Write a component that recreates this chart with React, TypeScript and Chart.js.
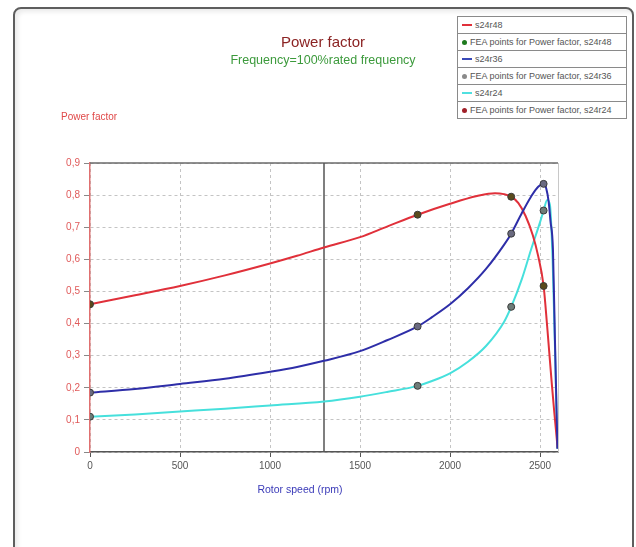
import React, { useEffect, useRef } from "react";
import { Chart, registerables } from "chart.js";

Chart.register(...registerables);

// Curves (Rotor speed in rpm, power factor)
const speedR48 = [0, 250, 500, 750, 1000, 1150, 1300, 1500, 1650, 1820, 2000, 2150, 2250, 2300, 2340, 2380, 2420, 2460, 2490, 2520, 2540, 2565, 2580, 2598];
const pfR48 = [0.46, 0.488, 0.517, 0.55, 0.587, 0.611, 0.637, 0.669, 0.702, 0.739, 0.773, 0.797, 0.806, 0.803, 0.795, 0.775, 0.735, 0.675, 0.61, 0.517, 0.39, 0.216, 0.12, 0.012];

const speedR36 = [0, 250, 500, 750, 1000, 1150, 1300, 1500, 1650, 1820, 1900, 2000, 2100, 2200, 2300, 2340, 2400, 2450, 2490, 2520, 2535, 2548, 2558, 2572, 2583, 2597];
const pfR36 = [0.185, 0.196, 0.212, 0.228, 0.25, 0.265, 0.284, 0.314, 0.348, 0.391, 0.42, 0.46, 0.51, 0.57, 0.645, 0.68, 0.745, 0.795, 0.826, 0.835, 0.82, 0.78, 0.72, 0.63, 0.35, 0.01];

const speedR24 = [0, 250, 500, 750, 1000, 1300, 1500, 1650, 1820, 1900, 2000, 2100, 2200, 2300, 2340, 2400, 2450, 2500, 2520, 2540, 2555, 2570, 2583, 2596];
const pfR24 = [0.11, 0.117, 0.126, 0.135, 0.145, 0.157, 0.172, 0.187, 0.206, 0.221, 0.245, 0.281, 0.33, 0.405, 0.452, 0.54, 0.63, 0.715, 0.752, 0.785, 0.77, 0.6, 0.33, 0.01];

// FEA points
const feaSpeed = [0, 1820, 2340, 2520];
const feaR48 = [0.46, 0.739, 0.795, 0.517];
const feaR36 = [0.185, 0.391, 0.68, 0.835];
const feaR24 = [0.11, 0.206, 0.452, 0.752];

// Rated speed marker
const markerSpeed = 1300;

const xTicks = [0, 500, 1000, 1500, 2000, 2500];
const yTicks = [0, 0.1, 0.2, 0.3, 0.4, 0.5, 0.6, 0.7, 0.8, 0.9];

const legendItems = [
  { label: "s24r48", kind: "line", color: "#e0303a" },
  { label: "FEA points for Power factor, s24r48", kind: "dot", color: "#1e7a1e" },
  { label: "s24r36", kind: "line", color: "#3a4ab8" },
  { label: "FEA points for Power factor, s24r36", kind: "dot", color: "#8a8a8a" },
  { label: "s24r24", kind: "line", color: "#50e0e0" },
  { label: "FEA points for Power factor, s24r24", kind: "dot", color: "#a02028" },
];

const pts = (xs: number[], ys: number[]) => xs.map((x, i) => ({ x, y: ys[i] }));

const FONT = "'Liberation Sans', Arial, sans-serif";

const framePlugin = {
  id: "frame",
  beforeDatasetsDraw(chart: any) {
    const { ctx, chartArea } = chart;
    ctx.save();
    ctx.strokeStyle = "#c8c8c8";
    ctx.lineWidth = 1;
    ctx.beginPath();
    ctx.moveTo(chartArea.right + 0.5, chartArea.top);
    ctx.lineTo(chartArea.right + 0.5, chartArea.bottom);
    ctx.stroke();
    ctx.strokeStyle = "#6a6a6a";
    ctx.lineWidth = 1.5;
    ctx.beginPath();
    ctx.moveTo(chartArea.left, chartArea.top);
    ctx.lineTo(chartArea.right, chartArea.top);
    ctx.stroke();
    ctx.restore();
  },
};

export default function App() {
  const ref = useRef<HTMLCanvasElement>(null);

  useEffect(() => {
    if (!ref.current) return;
    const lineDs = (label: string, data: any, color: string, order: number) => ({
      label,
      data,
      showLine: true,
      borderColor: color,
      backgroundColor: color,
      borderWidth: 2,
      pointRadius: 0,
      cubicInterpolationMode: "monotone",
      order,
    });
    const pointDs = (label: string, data: any, fill: string, order: number) => ({
      label,
      data,
      showLine: false,
      pointRadius: 3.5,
      pointBackgroundColor: fill,
      pointBorderColor: "#3a3a3a",
      pointBorderWidth: 1,
      order,
    });
    const chart = new Chart(ref.current, {
      type: "scatter",
      data: {
        datasets: [
          {
            label: "marker",
            data: [
              { x: markerSpeed, y: 0 },
              { x: markerSpeed, y: 0.9 },
            ],
            showLine: true,
            borderColor: "#555555",
            borderWidth: 1.5,
            pointRadius: 0,
            order: 5,
          } as any,
          lineDs("s24r24", pts(speedR24, pfR24), "#46e0dc", 4),
          lineDs("s24r48", pts(speedR48, pfR48), "#e0303a", 3),
          lineDs("s24r36", pts(speedR36, pfR36), "#2e2ea8", 2),
          pointDs("FEA points for Power factor, s24r48", pts(feaSpeed, feaR48), "#5a4a1c", 1),
          pointDs("FEA points for Power factor, s24r36", pts(feaSpeed, feaR36), "#6a6a80", 1),
          pointDs("FEA points for Power factor, s24r24", pts(feaSpeed, feaR24), "#6e7c78", 1),
        ] as any,
      },
      options: {
        animation: false,
        responsive: false,
        events: [],
        layout: { padding: { left: 0, right: 78, top: 163, bottom: 55 } },
        plugins: { legend: { display: false }, tooltip: { enabled: false }, title: { display: false } },
        scales: {
          x: {
            type: "linear",
            min: 0,
            max: 2600,
            afterBuildTicks: (scale: any) => {
              scale.ticks = xTicks.map((v) => ({ value: v }));
            },
            afterFit: (scale: any) => {
              scale.height = 40;
            },
            ticks: {
              color: "#555555",
              font: { family: FONT, size: 10 },
              padding: 3,
              maxRotation: 0,
              callback: (v: any) => String(v),
            },
            grid: {
              color: "#c4c4c4",
              tickColor: "#555555",
              tickLength: 5,
              lineWidth: 1,
            },
            border: { color: "#555555", width: 1.5, dash: [3, 3] },
          },
          y: {
            type: "linear",
            min: 0,
            max: 0.9,
            afterBuildTicks: (scale: any) => {
              scale.ticks = yTicks.map((v) => ({ value: v }));
            },
            afterFit: (scale: any) => {
              scale.width = 90;
            },
            ticks: {
              color: "#e05a5a",
              font: { family: FONT, size: 10 },
              padding: 4,
              callback: (v: any) => (v === 0 ? "0" : Number(v).toFixed(1).replace(".", ",")),
            },
            grid: {
              color: "#c4c4c4",
              tickColor: "#888888",
              tickLength: 6,
              lineWidth: 1,
            },
            border: { color: "#e07070", width: 1.5, dash: [3, 3] },
          },
        },
      } as any,
      plugins: [framePlugin],
    });
    return () => chart.destroy();
  }, []);

  return (
    <div
      style={{
        position: "absolute",
        left: 0,
        top: 0,
        width: 636,
        height: 547,
        overflow: "hidden",
        background: "#ffffff",
        fontFamily: FONT,
      }}
    >
      <div
        style={{
          position: "absolute",
          left: 13,
          top: 7,
          width: 617,
          height: 600,
          border: "2px solid #5e5e5e",
          borderRadius: 8,
          boxShadow: "inset 3px 3px 4px rgba(0,0,0,0.08)",
        }}
      />
      <canvas ref={ref} width={636} height={547} style={{ position: "absolute", left: 0, top: 0 }} />
      <div
        style={{
          position: "absolute",
          left: 0,
          width: 646,
          top: 33,
          textAlign: "center",
          color: "#8b2323",
          fontSize: 15,
          lineHeight: "18px",
        }}
      >
        Power factor
      </div>
      <div
        style={{
          position: "absolute",
          left: 0,
          width: 646,
          top: 52,
          textAlign: "center",
          color: "#3c9a3c",
          fontSize: 12.5,
          lineHeight: "16px",
        }}
      >
        Frequency=100%rated frequency
      </div>
      <div
        style={{
          position: "absolute",
          left: 61,
          top: 110,
          color: "#e04848",
          fontSize: 10,
          lineHeight: "13px",
        }}
      >
        Power factor
      </div>
      <div
        style={{
          position: "absolute",
          left: 200,
          width: 200,
          top: 483,
          textAlign: "center",
          color: "#3a3ab8",
          fontSize: 10.5,
          lineHeight: "13px",
        }}
      >
        Rotor speed (rpm)
      </div>
      <div
        style={{
          position: "absolute",
          left: 457,
          top: 16,
          width: 168,
          border: "1px solid #8a8a8a",
          background: "#ffffff",
        }}
      >
        {legendItems.map((it, i) => (
          <div
            key={i}
            style={{
              height: 16,
              borderTop: i === 0 ? "none" : "1px solid #8a8a8a",
              display: "flex",
              alignItems: "center",
              paddingLeft: 4,
              fontSize: 9,
              color: "#555555",
              whiteSpace: "nowrap",
              overflow: "hidden",
            }}
          >
            {it.kind === "line" ? (
              <span
                style={{
                  display: "inline-block",
                  width: 10,
                  height: 2,
                  background: it.color,
                  marginRight: 3,
                }}
              />
            ) : (
              <span
                style={{
                  display: "inline-block",
                  width: 5,
                  height: 5,
                  borderRadius: 3,
                  background: it.color,
                  marginRight: 3,
                }}
              />
            )}
            {it.label}
          </div>
        ))}
      </div>
    </div>
  );
}
